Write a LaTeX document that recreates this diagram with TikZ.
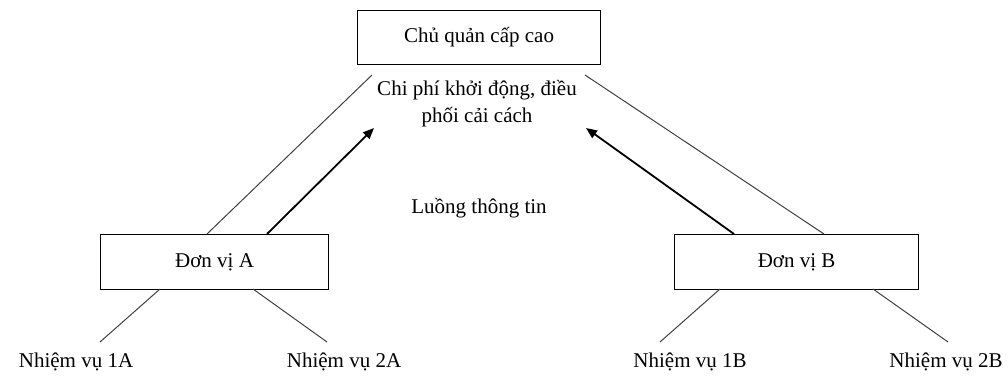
\documentclass[tikz,border=0pt]{standalone}
\usepackage{fontspec}
\setmainfont{Liberation Serif}
\usetikzlibrary{arrows.meta}
\begin{document}
\begin{tikzpicture}[x=1pt,y=-1pt,
  every node/.style={font=\fontsize{21}{27}\selectfont, inner sep=0pt},
  boxnode/.style={draw, line width=1.1pt, anchor=north west},
  thinline/.style={line width=1pt, draw=black!75},
  flowarrow/.style={line width=1.8pt, -{Triangle[length=11pt,width=9pt]}}]
\useasboundingbox (0,0) rectangle (1008,379);
\node[boxnode, minimum width=243pt, minimum height=54pt] (top) at (357,10) {};
\node at (top.center) {Chủ quản cấp cao};
\node[boxnode, minimum width=228pt, minimum height=55pt] (A) at (100,234) {};
\node at (A.center) {Đơn vị A};
\node[boxnode, minimum width=244pt, minimum height=55pt] (B) at (674,234) {};
\node at (B.center) {Đơn vị B};
\node[align=center] (cost) at (477,104) {Chi phí khởi động, điều\\phối cải cách};
\node (flow) at (479,208) {Luồng thông tin};
\node (t1a) at (76,362) {Nhiệm vụ 1A};
\node (t2a) at (344,362) {Nhiệm vụ 2A};
\node (t1b) at (690,362) {Nhiệm vụ 1B};
\node (t2b) at (946,362) {Nhiệm vụ 2B};
\coordinate (tl) at (372,75);
\coordinate (tr) at (585,75);
\coordinate (al) at (207,234);
\coordinate (ar) at (267,234);
\coordinate (bl) at (734,234);
\coordinate (br) at (824,234);
\coordinate (aTip) at (374,128);
\coordinate (bTip) at (586,128);
\coordinate (a1s) at (160,289);
\coordinate (a1e) at (100,342);
\coordinate (a2s) at (253,289);
\coordinate (a2e) at (327,342);
\coordinate (b1s) at (720,289);
\coordinate (b1e) at (660,342);
\coordinate (b2s) at (873,289);
\coordinate (b2e) at (948,342);
\draw[thinline] (tl) -- (al);
\draw[thinline] (tr) -- (br);
\draw[flowarrow] (ar) -- (aTip);
\draw[flowarrow] (bl) -- (bTip);
\draw[thinline] (a1s) -- (a1e);
\draw[thinline] (a2s) -- (a2e);
\draw[thinline] (b1s) -- (b1e);
\draw[thinline] (b2s) -- (b2e);
\end{tikzpicture}
\end{document}
